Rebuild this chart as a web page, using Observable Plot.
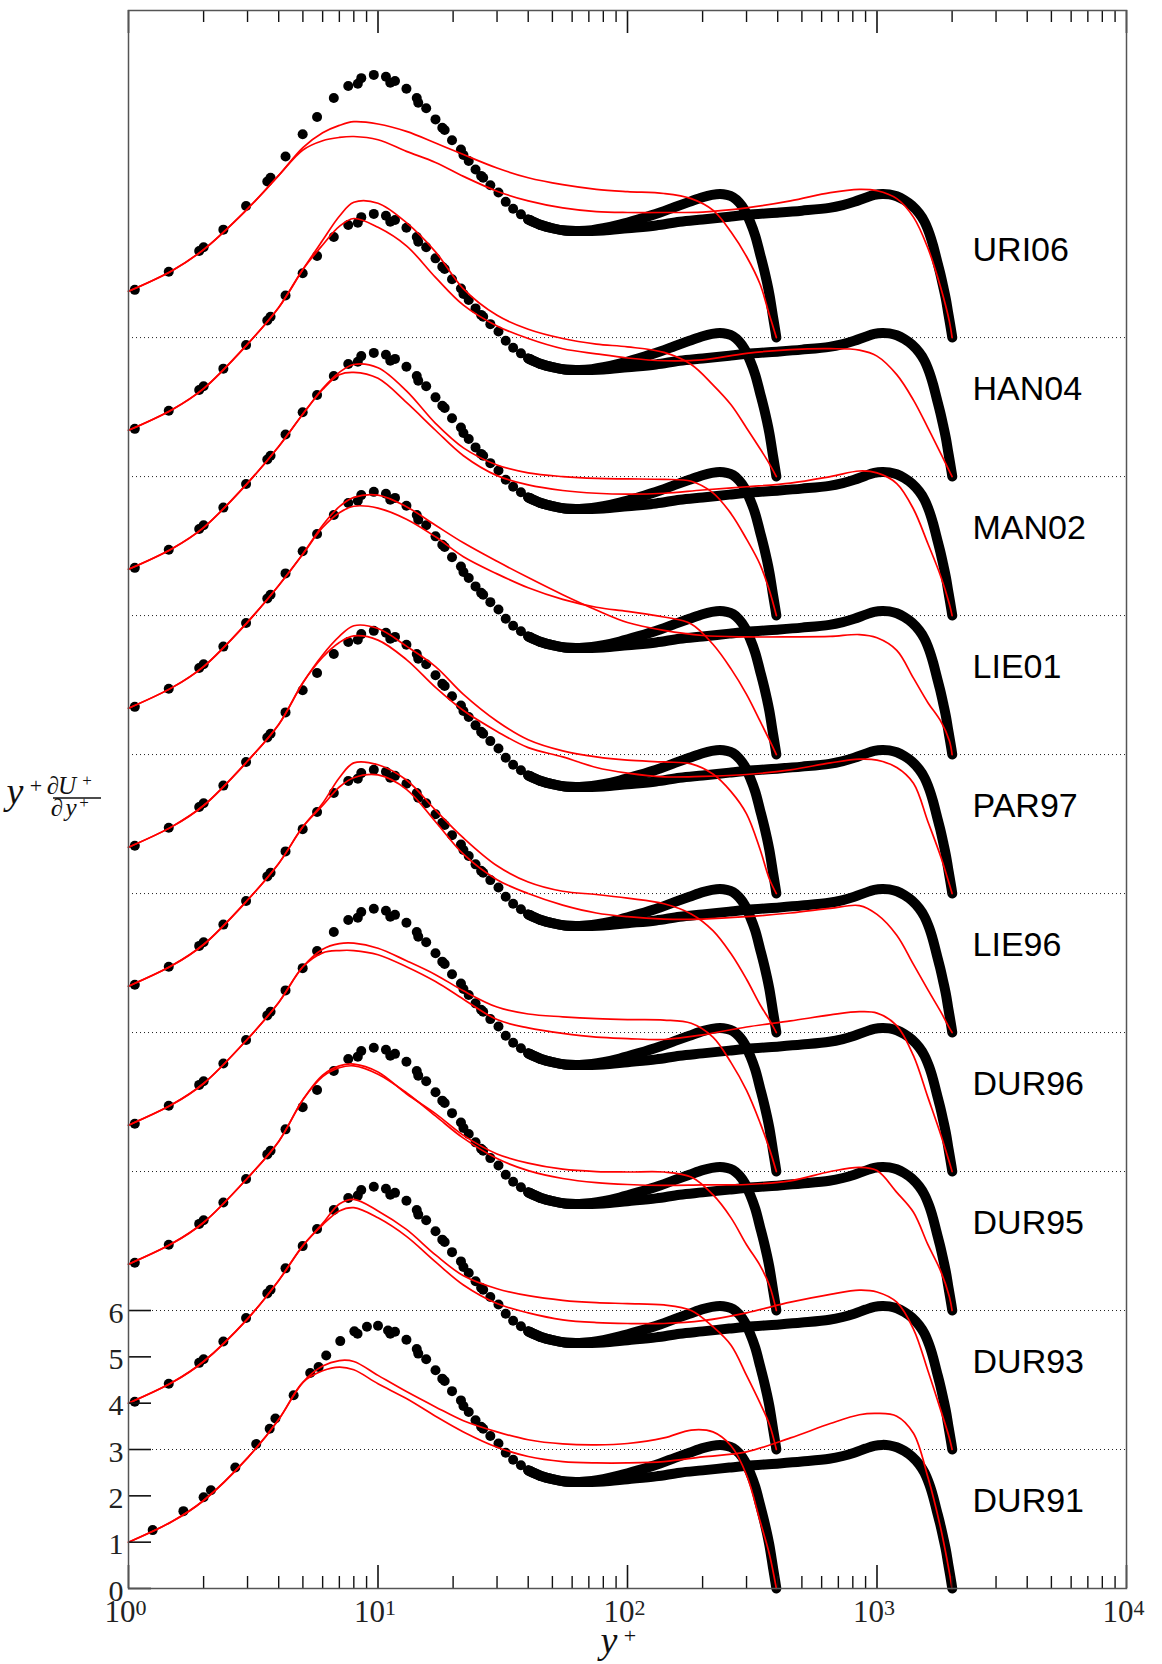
<!DOCTYPE html>
<html>
<head>
<meta charset="utf-8">
<script src="https://cdn.jsdelivr.net/npm/d3@7"></script>
<script src="https://cdn.jsdelivr.net/npm/@observablehq/plot@0.6"></script>
<style>
  html, body { margin: 0; padding: 0; background: #fff; }
  #chart svg { display: block; }
</style>
</head>
<body>
<div id="chart"></div>
<script>
// ---------------- data ----------------
const panelNames = ["DUR91","DUR93","DUR95","DUR96","LIE96","PAR97","LIE01","MAN02","HAN04","URI06"];
const panelStep = 3;
const gridLevels = [3, 6, 9, 12, 15, 18, 21, 24, 27];
const yTickValues = [0, 1, 2, 3, 4, 5, 6];
const xMajorTicks = [1, 10, 100, 1000, 10000];
const xMinorFactors = [2, 3, 4, 5, 6, 7, 8, 9];

// model (red) grids in y+
const gridRe395 = [1, 1.5, 2, 3, 4, 5, 6, 7, 8, 10, 13, 17, 22, 30, 40, 55, 75, 100, 140, 180, 220, 260, 300, 340, 370, 395];
const gridRe2000 = [1, 1.5, 2, 3, 4, 5, 6, 7, 8, 10, 13, 17, 22, 30, 40, 55, 75, 100, 140, 200, 300, 450, 650, 850, 1000, 1200, 1400, 1600, 1800, 1950, 2000];

const dur91_395  = [1.0,1.45,1.9,2.82,3.65,4.45,4.8,4.92,4.9,4.6,4.25,3.92,3.62,3.38,3.21,3.12,3.1,3.13,3.25,3.42,3.38,3.08,2.45,1.45,0.75,0];
const dur91_2000 = [1.0,1.45,1.9,2.82,3.65,4.45,4.7,4.78,4.72,4.42,4.1,3.72,3.38,3.05,2.85,2.74,2.71,2.71,2.74,2.84,2.95,3.25,3.56,3.75,3.78,3.72,3.35,2.4,1.3,0.35,0];
const dur93_395  = [1.0,1.45,1.9,2.82,3.65,4.4,4.88,5.3,5.4,5.15,4.75,4.2,3.75,3.47,3.32,3.22,3.17,3.15,3.12,3.0,2.65,2.25,1.6,1.0,0.55,0];
const dur93_2000 = [1.0,1.45,1.9,2.82,3.65,4.4,4.85,5.15,5.22,5.0,4.6,4.05,3.55,3.15,2.95,2.8,2.74,2.72,2.72,2.78,2.95,3.18,3.35,3.44,3.40,3.18,2.6,1.7,0.85,0.25,0];
const dur95_395  = [1.0,1.45,1.9,2.86,3.65,4.55,5.08,5.28,5.32,5.15,4.68,4.25,3.78,3.38,3.18,3.05,3.0,2.99,2.99,2.88,2.5,2.0,1.42,0.97,0.55,0];
const dur95_2000 = [1.0,1.45,1.9,2.86,3.65,4.55,5.05,5.24,5.28,5.1,4.7,4.2,3.72,3.28,3.02,2.85,2.76,2.72,2.70,2.71,2.72,2.8,3.0,3.09,3.02,2.55,2.12,1.42,0.85,0.3,0];
const dur96_395  = [1.0,1.45,1.9,2.86,3.65,4.42,4.8,4.92,4.93,4.82,4.55,4.25,3.9,3.55,3.4,3.34,3.3,3.28,3.27,3.2,2.9,2.35,1.75,1.05,0.5,0];
const dur96_2000 = [1.0,1.45,1.9,2.86,3.65,4.42,4.72,4.77,4.77,4.68,4.42,4.1,3.72,3.28,3.1,2.98,2.9,2.87,2.85,2.95,3.12,3.25,3.38,3.45,3.42,3.15,2.5,1.6,0.8,0.2,0];
const lie96_395  = [1.0,1.45,1.9,2.86,3.65,4.44,4.95,5.5,5.82,5.78,5.45,4.8,4.2,3.6,3.25,3.05,2.98,2.9,2.78,2.56,2.2,1.7,1.15,0.6,0.28,0];
const lie96_2000 = [1.0,1.45,1.9,2.86,3.65,4.44,4.9,5.3,5.5,5.56,5.25,4.55,3.85,3.3,3.0,2.75,2.58,2.5,2.45,2.45,2.5,2.58,2.68,2.74,2.55,2.1,1.47,0.92,0.45,0.1,0];
const par97_395  = [1.0,1.45,1.9,2.86,3.65,4.55,5.15,5.55,5.78,5.72,5.34,4.9,4.3,3.72,3.32,3.08,2.95,2.88,2.84,2.8,2.58,2.2,1.72,0.95,0.32,0];
const par97_2000 = [1.0,1.45,1.9,2.86,3.65,4.55,5.1,5.42,5.56,5.47,5.05,4.45,3.95,3.5,3.15,2.95,2.72,2.6,2.52,2.53,2.57,2.67,2.82,2.9,2.88,2.72,2.38,1.55,0.8,0.2,0];
const lie01_395  = [1.0,1.45,1.9,2.86,3.65,4.33,4.9,5.22,5.36,5.32,5.08,4.7,4.27,3.9,3.6,3.35,3.18,3.09,2.97,2.82,2.38,1.85,1.3,0.72,0.32,0];
const lie01_2000 = [1.0,1.45,1.9,2.86,3.65,4.33,4.95,5.35,5.55,5.6,5.35,4.95,4.57,4.17,3.82,3.45,3.12,2.85,2.68,2.57,2.54,2.54,2.55,2.59,2.52,2.25,1.65,1.12,0.72,0.3,0];
const man02_395  = [1.0,1.45,1.9,2.86,3.65,4.35,4.9,5.25,5.42,5.35,4.85,4.15,3.62,3.25,3.08,3.0,2.96,2.95,2.94,2.9,2.65,2.2,1.65,1.1,0.55,0];
const man02_2000 = [1.0,1.45,1.9,2.86,3.65,4.35,4.88,5.2,5.25,5.12,4.6,4.0,3.45,3.02,2.82,2.7,2.64,2.62,2.64,2.71,2.78,2.86,3.0,3.12,3.08,2.85,2.3,1.55,0.85,0.25,0];
const han04_395  = [1.0,1.45,1.9,2.86,3.65,4.47,5.1,5.62,5.92,5.9,5.48,4.85,4.05,3.48,3.18,2.98,2.86,2.8,2.68,2.42,1.98,1.55,1.05,0.6,0.28,0];
const han04_2000 = [1.0,1.45,1.9,2.86,3.65,4.47,5.0,5.4,5.57,5.38,4.98,4.3,3.7,3.25,2.98,2.76,2.65,2.56,2.5,2.52,2.66,2.74,2.76,2.73,2.6,2.2,1.65,1.05,0.5,0.12,0];
const uri06_395  = [1.0,1.45,1.9,2.78,3.5,4.1,4.42,4.58,4.66,4.61,4.45,4.2,3.95,3.66,3.45,3.3,3.2,3.15,3.11,3.0,2.75,2.28,1.75,1.15,0.5,0];
const uri06_2000 = [1.0,1.45,1.9,2.78,3.5,4.05,4.25,4.32,4.34,4.27,4.02,3.78,3.48,3.16,2.95,2.8,2.72,2.70,2.70,2.71,2.80,2.95,3.13,3.2,3.17,3.0,2.6,1.93,1.08,0.35,0];

const model395  = [dur91_395, dur93_395, dur95_395, dur96_395, lie96_395, par97_395, lie01_395, man02_395, han04_395, uri06_395];
const model2000 = [dur91_2000, dur93_2000, dur95_2000, dur96_2000, lie96_2000, par97_2000, lie01_2000, man02_2000, han04_2000, uri06_2000];

// DNS (black dots) near-wall points
const dnsDotYplus = [1.06,1.45,1.92,2.0,2.40,2.96,3.6,3.71,4.26,4.99,5.7,6.65,7.6,8.3,8.57,9.62,10.76,11.2,11.7,13.0,14.3,14.5,15.6,17.0,18.1,18.5,19.8,21.5,22.0,23.1,24.6,25.9,26.4,28.2,30.4,32.5,34.8,37.4,40.8,44.6];
const dnsDotValue = [1.03,1.42,1.87,1.95,2.33,2.84,3.37,3.45,3.91,4.39,4.76,5.17,5.43,5.48,5.6,5.67,5.63,5.5,5.54,5.37,5.17,5.07,4.95,4.71,4.53,4.48,4.26,4.06,3.94,3.81,3.63,3.49,3.45,3.29,3.13,2.93,2.78,2.66,2.53,2.43];
// DUR91 panel uses a different set of near-wall points
const dur91DotYplus = [1.25,1.66,2.0,2.14,2.68,3.25,3.68,3.88,4.59,5.35,5.78,6.2,7.06,8.04,8.28,9.03,10.0,10.97];
const dur91DotValue = [1.26,1.67,1.97,2.12,2.61,3.12,3.45,3.67,4.17,4.65,4.78,5.03,5.34,5.55,5.50,5.65,5.67,5.57];

// DNS dense outer region
const dns395Yplus = [40,45,50,56,64,72,80,93,110,135,155,177,200,218,235,250,265,280,295,310,325,340,355,370,383,392,395];
const dns395Value = [2.55,2.43,2.36,2.31,2.30,2.32,2.36,2.44,2.55,2.70,2.82,2.93,3.03,3.08,3.10,3.08,3.03,2.92,2.75,2.5,2.2,1.8,1.4,0.95,0.45,0.12,0];
const dns2000Yplus = [40,45,50,56,64,72,80,100,130,162,200,256,320,406,500,644,730,811,900,975,1050,1120,1200,1286,1380,1476,1550,1618,1680,1734,1790,1841,1890,1928,1965,1990,2003];
const dns2000Value = [2.55,2.43,2.36,2.31,2.30,2.30,2.31,2.36,2.42,2.50,2.55,2.61,2.66,2.70,2.74,2.80,2.86,2.93,3.02,3.08,3.10,3.09,3.05,2.97,2.85,2.68,2.5,2.26,1.98,1.69,1.4,1.11,0.82,0.54,0.28,0.10,0];

// ---------------- build rows ----------------
const redRows = [], dnsLineRows = [], dnsDotRows = [];
panelNames.forEach((name, i) => {
  const off = i * panelStep;
  model395[i].forEach((v, j) => redRows.push({x: gridRe395[j], y: v + off, key: name + "-395"}));
  model2000[i].forEach((v, j) => redRows.push({x: gridRe2000[j], y: v + off, key: name + "-2000"}));
  dns395Yplus.forEach((x, j) => dnsLineRows.push({x, y: dns395Value[j] + off, key: name + "-395"}));
  dns2000Yplus.forEach((x, j) => dnsLineRows.push({x, y: dns2000Value[j] + off, key: name + "-2000"}));
  if (name === "DUR91") {
    dur91DotYplus.forEach((x, j) => dnsDotRows.push({x, y: dur91DotValue[j] + off}));
    dnsDotYplus.forEach((x, j) => { if (x > 11) dnsDotRows.push({x, y: dnsDotValue[j] + off}); });
  } else {
    dnsDotYplus.forEach((x, j) => dnsDotRows.push({x, y: dnsDotValue[j] + off}));
  }
});
const labelRows = panelNames.map((name, i) => ({name, y: i * panelStep + 1.88}));
const labelX = 2415;

const minorTicks = [];
[1, 10, 100, 1000].forEach(d => xMinorFactors.forEach(f => minorTicks.push(d * f)));

// ---------------- layout ----------------
const W = 1162, H = 1664, mL = 128, mR = 36, mT = 10, mB = 76;
const yTop = 34.06;
const pxPerUnit = (H - mT - mB) / yTop;
const pxPerDecade = (W - mL - mR) / 4;
const majorLen = 23 / pxPerUnit, minorLen = 12 / pxPerUnit;
const yTickEnd = Math.pow(10, 23 / pxPerDecade);

const chart = Plot.plot({
  width: W, height: H,
  marginLeft: mL, marginRight: mR, marginTop: mT, marginBottom: mB,
  x: {type: "log", domain: [1, 10000], axis: null},
  y: {domain: [0, yTop], axis: null},
  style: {background: "white", overflow: "visible"},
  marks: [
    Plot.ruleY(gridLevels, {stroke: "#222", strokeWidth: 1, strokeDasharray: "1,3"}),
    Plot.line(dnsLineRows, {x: "x", y: "y", z: "key", stroke: "black", strokeWidth: 10,
      strokeLinecap: "round", strokeLinejoin: "round", curve: "catmull-rom"}),
    Plot.dot(dnsDotRows, {x: "x", y: "y", r: 5, fill: "black", stroke: "none"}),
    Plot.line(redRows, {x: "x", y: "y", z: "key", stroke: "#ff0000", strokeWidth: 1.7, curve: "catmull-rom"}),
    Plot.text(labelRows, {x: () => labelX, y: "y", text: "name", textAnchor: "start",
      fontFamily: "Liberation Sans, Arial, sans-serif", fontSize: 34, fill: "black"}),
    // x ticks bottom & top (inward)
    Plot.ruleX(xMajorTicks, {x: d => d, y1: 0, y2: majorLen, stroke: "#111", strokeWidth: 1.6}),
    Plot.ruleX(minorTicks, {x: d => d, y1: 0, y2: minorLen, stroke: "#111", strokeWidth: 1.4}),
    Plot.ruleX(xMajorTicks, {x: d => d, y1: yTop - majorLen, y2: yTop, stroke: "#111", strokeWidth: 1.6}),
    Plot.ruleX(minorTicks, {x: d => d, y1: yTop - minorLen, y2: yTop, stroke: "#111", strokeWidth: 1.4}),
    // y ticks (left, inward)
    Plot.ruleY(yTickValues, {y: d => d, x1: 1, x2: yTickEnd, stroke: "#111", strokeWidth: 1.6}),
    // tick labels
    Plot.text(xMajorTicks, {x: d => d, y: () => 0, text: () => "10", textAnchor: "end", lineAnchor: "bottom",
      dx: 7, dy: 33.5, fontFamily: "Liberation Serif, serif", fontSize: 31, fill: "#222"}),
    Plot.text(xMajorTicks, {x: d => d, y: () => 0, text: d => String(Math.round(Math.log10(d))), textAnchor: "start",
      lineAnchor: "bottom", dx: 7, dy: 26, fontFamily: "Liberation Serif, serif", fontSize: 22, fill: "#222"}),
    Plot.text(yTickValues, {x: () => 1, y: d => d, text: d => String(d), textAnchor: "end", lineAnchor: "bottom",
      dx: -5, dy: 12, fontFamily: "Liberation Serif, serif", fontSize: 30, fill: "#222"}),
    Plot.frame({stroke: "#555", strokeWidth: 1.5})
  ]
});

// axis titles (real text)
const svg = d3.select(chart);
const g = svg.append("g").attr("font-family", "Liberation Serif, serif").attr("fill", "#111");
function addText(x, y, size, italic) {
  return g.append("text").attr("x", x).attr("y", y)
    .attr("font-size", size).style("font-size", size + "px")
    .attr("font-style", italic ? "italic" : "normal").style("font-style", italic ? "italic" : "normal");
}
// x label: y+
addText(609, 1653, 38, true).text("y");
addText(630, 1643, 22, false).text("+");
// y label: y+ dU+/dy+
addText(15, 804, 38, true).text("y");
addText(36, 793, 22, false).text("+");
addText(53, 794, 25, false).text("\u2202");
addText(67, 794, 25, true).text("U");
addText(87, 786, 17, false).text("+");
g.append("line").attr("x1", 53).attr("x2", 101).attr("y1", 798).attr("y2", 798)
  .attr("stroke", "#111").attr("stroke-width", 1.6);
addText(57, 816, 25, false).text("\u2202");
addText(71, 816, 25, true).text("y");
addText(84, 808, 17, false).text("+");

document.getElementById("chart").appendChild(chart);
</script>
</body>
</html>
